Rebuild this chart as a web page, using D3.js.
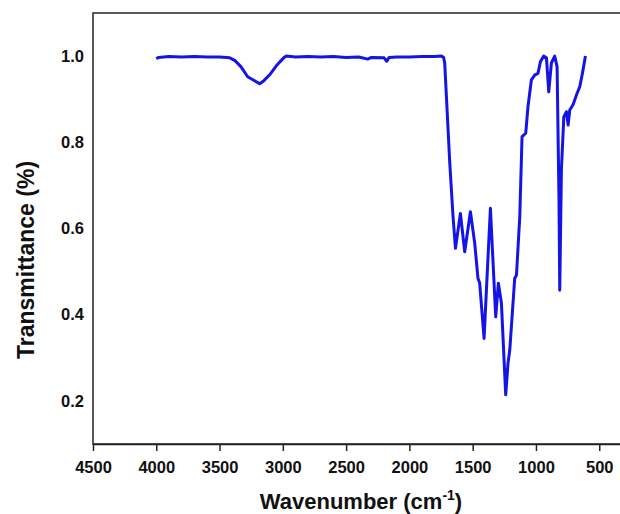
<!DOCTYPE html>
<html>
<head>
<meta charset="utf-8">
<script src="https://cdn.jsdelivr.net/npm/d3@7"></script>
<style>
body { margin: 0; background: #fff; }
text { font-family: "Liberation Sans", Arial, sans-serif; font-weight: bold; fill: #111; }
</style>
</head>
<body>
<div id="drawing"></div>
<script>
"use strict"

/**** Configuration ****/
let svgWidth = 620
let svgHeight = 514

let plotLeft = 93
let plotTop = 13
let plotBottom = 444
let plotRight = 620

/**** DATA ****/
let wavenumber = [4000, 3980, 3900, 3800, 3700, 3600, 3500, 3420, 3380, 3330, 3278, 3230, 3183, 3150, 3100, 3050, 2990, 2972,
  2900, 2800, 2700, 2600, 2500, 2400, 2329, 2300, 2200, 2179, 2160, 2100, 2000, 1900, 1800, 1747, 1730,
  1721, 1681, 1655, 1636, 1597, 1563, 1518, 1484, 1458, 1445, 1410, 1360, 1318, 1297, 1273, 1239, 1221,
  1207, 1168, 1154, 1128, 1110, 1081, 1063, 1036, 1010, 984, 965, 939, 917, 899, 878, 852, 833, 818,
  812, 799, 780, 759, 746, 733, 707, 680, 654, 633, 609]
let transmittance = [0.994, 0.997, 0.999, 0.998, 0.999, 0.998, 0.998, 0.996, 0.99, 0.975, 0.952, 0.944, 0.936, 0.943, 0.958, 0.978, 0.997, 1.0,
  0.998, 0.999, 0.998, 0.999, 0.997, 0.998, 0.993, 0.997, 0.996, 0.988, 0.997, 0.998, 0.998, 0.999, 0.999, 1.0, 0.997,
  0.984, 0.752, 0.627, 0.554, 0.635, 0.546, 0.639, 0.566, 0.484, 0.474, 0.345, 0.647, 0.395, 0.473, 0.427, 0.214, 0.287,
  0.318, 0.484, 0.492, 0.627, 0.813, 0.821, 0.883, 0.945, 0.956, 0.96, 0.987, 1.0, 0.996, 0.917, 0.984, 1.0, 0.975, 0.666,
  0.457, 0.736, 0.859, 0.871, 0.84, 0.875, 0.887, 0.91, 0.929, 0.96, 1.0]

let xTicks = [4500, 4000, 3500, 3000, 2500, 2000, 1500, 1000, 500]
let yTicks = [0.2, 0.4, 0.6, 0.8, 1.0]

let spectrum = wavenumber.map((w, i) => ({w: w, t: transmittance[i]}))

/**** SVG ****/
let svg = d3.select("#drawing")
.append("svg")
.attr("width", svgWidth)
.attr("height", svgHeight)

/**** SCALES ****/
let xScale = d3.scaleLinear()
.domain([4500, 336])
.range([plotLeft, plotRight])

let yScale = d3.scaleLinear()
.domain([0.1, 1.1])
.range([plotBottom, plotTop])

/**** FRAME ****/
svg.append("rect")
.attr("x", plotLeft)
.attr("y", plotTop)
.attr("width", 700)
.attr("height", plotBottom - plotTop)
.attr("fill", "none")
.attr("stroke", "#222")
.attr("stroke-width", 1.5)

/**** AXES ****/
let xAxis = svg.append("g")
.attr("transform", `translate(0,${plotBottom})`)
.call(d3.axisBottom(xScale).tickValues(xTicks).tickFormat(d3.format("d")).tickSizeInner(7).tickSizeOuter(0).tickPadding(10))

xAxis.select(".domain").attr("stroke", "#222").attr("stroke-width", 1.5)
xAxis.selectAll(".tick line").attr("stroke", "#222").attr("stroke-width", 1.5)
xAxis.selectAll("text").style("font-size", "16.5px").attr("fill", "#111")

let yAxis = svg.append("g")
.attr("transform", `translate(${plotLeft},0)`)
.call(d3.axisLeft(yScale).tickValues(yTicks).tickFormat(d3.format(".1f")).tickSize(0).tickPadding(9))

yAxis.select(".domain").remove()
yAxis.selectAll("text").style("font-size", "16.5px").attr("fill", "#111")

/**** SPECTRUM ****/
let line = d3.line()
.x(d => xScale(d.w))
.y(d => yScale(d.t))

svg.append("path")
.datum(spectrum)
.attr("d", line)
.attr("fill", "none")
.attr("stroke", "#1414e6")
.attr("stroke-width", 3)
.attr("stroke-linejoin", "round")

/**** AXIS LABELS ****/
let xLabel = svg.append("text")
.attr("x", 361)
.attr("y", 509)
.style("text-anchor", "middle")
.style("font-size", "22px")

xLabel.append("tspan").text("Wavenumber (cm")
xLabel.append("tspan").attr("dy", -9).style("font-size", "14px").text("-1")
xLabel.append("tspan").attr("dy", 9).text(")")

svg.append("text")
.attr("transform", "rotate(-90)")
.attr("x", -260)
.attr("y", 34)
.style("text-anchor", "middle")
.style("font-size", "23px")
.text("Transmittance (%)")
</script>
</body>
</html>
